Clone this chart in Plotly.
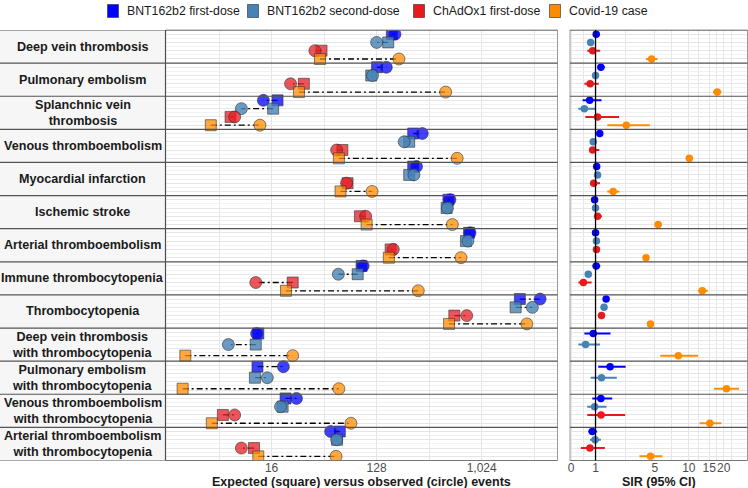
import numpy as np
import plotly.graph_objects as go

W, H = 748, 488

row_labels = [
    "Deep vein thrombosis", "Pulmonary embolism", "Splanchnic vein<br>thrombosis",
    "Venous thromboembolism", "Myocardial infarction", "Ischemic stroke",
    "Arterial thromboembolism", "Immune thrombocytopenia", "Thrombocytopenia",
    "Deep vein thrombosis<br>with thrombocytopenia", "Pulmonary embolism<br>with thrombocytopenia",
    "Venous thromboembolism<br>with thrombocytopenia", "Arterial thromboembolism<br>with thrombocytopenia",
]
group_names = ["BNT162b2 first-dose", "BNT162b2 second-dose", "ChAdOx1 first-dose", "Covid-19 case"]

bnt1_expected = [173, 129, 18, 264, 264, 530, 798, 95, 2181, 12.3, 12.1, 21.1, 61.8]
bnt1_observed = [184, 155, 13.6, 316, 282, 546, 813, 98, 3257, 11.9, 20.2, 26.2, 51.5]
bnt1_sir = [1.03, 1.24, 0.75, 1.19, 1.05, 0.96, 1.0, 1.03, 1.49, 0.90, 1.69, 1.24, 0.86]
bnt1_lo = [0.96, 1.12, 0.46, 1.12, 0.98, 0.90, 0.95, 0.875, 1.42, 0.53, 1.12, 0.86, 0.69]
bnt1_hi = [1.10, 1.43, 1.27, 1.27, 1.12, 1.02, 1.05, 1.21, 1.56, 1.71, 2.58, 1.80, 1.07]

bnt2_expected = [161, 115, 16.5, 244, 244, 512, 750, 88, 2006, 11.7, 11.5, 19.9, 58.5]
bnt2_observed = [128, 118, 8.8, 221, 268, 520, 780, 60, 2795, 6.8, 14.7, 19.1, 58]
bnt2_sir = [0.79, 1.0, 0.53, 0.90, 1.09, 1.0, 1.04, 0.69, 1.39, 0.58, 1.27, 0.96, 0.98]
bnt2_lo = [0.73, 0.88, 0.29, 0.84, 1.01, 0.94, 0.99, 0.58, 1.32, 0.29, 0.79, 0.65, 0.76]
bnt2_hi = [0.86, 1.13, 1.00, 0.97, 1.17, 1.06, 1.09, 0.83, 1.46, 1.20, 2.05, 1.51, 1.24]

chad_expected = [43, 30.3, 7.1, 65, 72, 92, 169, 24.3, 596, None, None, 6.1, 11.3]
chad_observed = [37.7, 23.3, 7.7, 58, 70.6, 103, 178, 11.7, 762, None, None, 7.7, 8.8]
chad_sir = [0.875, 0.77, 1.09, 0.875, 0.92, 1.09, 1.04, 0.49, 1.27, None, None, 1.25, 0.76]
chad_lo = [0.65, 0.53, 0.57, 0.72, 0.76, 0.95, 0.96, 0.29, 1.20, None, None, 0.65, 0.39]
chad_hi = [1.21, 1.14, 2.18, 1.17, 1.20, 1.29, 1.13, 0.83, 1.34, None, None, 2.55, 1.43]

covid_expected = [41.7, 27.5, 4.8, 60.6, 62.6, 105, 163, 21.3, 537, 2.9, 2.75, 4.9, 12.3]
covid_observed = [199, 502, 12.7, 630, 117, 573, 680, 292, 2505, 24.3, 60.6, 77, 57.3]
covid_sir = [4.66, 17.6, 2.62, 10.1, 1.85, 5.35, 4.13, 13.1, 4.55, 8.1, 21.1, 15.2, 4.55]
covid_lo = [4.13, 16.2, 1.55, 9.5, 1.55, 5.1, 3.9, 12.0, 4.35, 5.6, 16.5, 12.4, 3.57]
covid_hi = [5.28, 19.1, 4.49, 10.9, 2.2, 5.8, 4.4, 14.6, 4.75, 12.0, 27.0, 19.1, 5.85]

sir_ticks = [0, 1, 5, 10, 15, 20]
events_ticks = [16, 128, 1024]
events_ticktext = ["16", "128", "1,024"]

groups = [
    (bnt1_expected, bnt1_observed, bnt1_sir, bnt1_lo, bnt1_hi),
    (bnt2_expected, bnt2_observed, bnt2_sir, bnt2_lo, bnt2_hi),
    (chad_expected, chad_observed, chad_sir, chad_lo, chad_hi),
    (covid_expected, covid_observed, covid_sir, covid_lo, covid_hi),
]
fill_cols = ["rgba(0,0,255,0.75)", "rgba(70,130,180,0.8)", "rgba(230,30,36,0.75)", "rgba(255,140,0,0.75)"]
solid_cols = ["#0000FF", "#4682B4", "#E41A1C", "#FF8C00"]
edge = "rgba(50,50,50,0.75)"

nrows = len(row_labels)
ypos = [[None] * nrows for _ in groups]
for r in range(nrows):
    present = [g for g in range(len(groups)) if groups[g][0][r] is not None]
    for j, g in enumerate(present):
        ypos[g][r] = r + (j + 0.5) / len(present)

def tr(v):
    return float(np.arcsinh(v / 2.0))

fig = go.Figure()

for g, (exp, obs, *_rest) in enumerate(groups):
    xs, ys = [], []
    for r in range(nrows):
        if exp[r] is None:
            continue
        xs += [exp[r], obs[r], None]
        ys += [ypos[g][r], ypos[g][r], None]
    fig.add_trace(go.Scatter(x=xs, y=ys, mode="lines", showlegend=False, hoverinfo="skip",
                             line=dict(color="black", width=1.3, dash="6px,3px,2px,3px"),
                             xaxis="x", yaxis="y"))

for g, (exp, obs, *_rest) in enumerate(groups):
    idx = [r for r in range(nrows) if exp[r] is not None]
    fig.add_trace(go.Scatter(x=[exp[r] for r in idx], y=[ypos[g][r] for r in idx], mode="markers",
                             showlegend=False, name=group_names[g] + " expected",
                             marker=dict(symbol="square", size=11, color=fill_cols[g], line=dict(color=edge, width=0.8)),
                             xaxis="x", yaxis="y"))
    fig.add_trace(go.Scatter(x=[obs[r] for r in idx], y=[ypos[g][r] for r in idx], mode="markers",
                             showlegend=False, name=group_names[g] + " observed",
                             marker=dict(symbol="circle", size=12, color=fill_cols[g], line=dict(color=edge, width=0.8)),
                             xaxis="x", yaxis="y"))

for g, (exp, obs, sir, lo, hi) in enumerate(groups):
    idx = [r for r in range(nrows) if sir[r] is not None]
    xs = [tr(sir[r]) for r in idx]
    fig.add_trace(go.Scatter(
        x=xs, y=[ypos[g][r] for r in idx], mode="markers", showlegend=False, name=group_names[g] + " SIR",
        marker=dict(size=7.5, color=solid_cols[g]),
        error_x=dict(type="data", symmetric=False,
                     array=[tr(hi[r]) - tr(sir[r]) for r in idx],
                     arrayminus=[tr(sir[r]) - tr(lo[r]) for r in idx],
                     color=solid_cols[g], thickness=2, width=0),
        xaxis="x2", yaxis="y2"))

L_main, R_main = 165.5 / W, 557.5 / W
L_sir, R_sir = 570 / W, 747.5 / W
Y_top, Y_bot = 1 - 30 / H, 1 - 460.5 / H

log2lo, log2hi = 0.97, 12.166
l2 = np.log10(2)
minor_events = [2 ** 2.5, 2 ** 5.5, 2 ** 8.5, 2 ** 11.5]
sir_t = [tr(v) for v in sir_ticks]
sir_minor = [(a + b) / 2 for a, b in zip(sir_t[:-1], sir_t[1:])] + [sir_t[-1] + (sir_t[-1] - sir_t[-2]) / 2]

tickfont = dict(family="Liberation Sans, Arial", size=12, color="#4D4D4D")
grid_major = "#E6E6E6"
grid_minor = "#F2F2F2"

yax = dict(range=[nrows, 0], domain=[Y_bot, Y_top], showticklabels=False, ticks="",
           tick0=0.125, dtick=0.25, showgrid=True, gridcolor=grid_major, gridwidth=0.8, zeroline=False,
           automargin=False,
           minor=dict(tick0=0, dtick=0.25, showgrid=True, gridcolor=grid_minor, gridwidth=0.5))

fig.update_layout(
    width=W, height=H, margin=dict(l=0, r=0, t=0, b=0, pad=0, autoexpand=False),
    paper_bgcolor="white", plot_bgcolor="white",
    font=dict(family="Liberation Sans, Arial", color="#1A1A1A"),
    xaxis=dict(type="log", domain=[L_main, R_main], range=[log2lo * l2, log2hi * l2], anchor="y",
               tickvals=events_ticks, ticktext=events_ticktext, tickfont=tickfont, ticks="", tickangle=0,
               ticklabelstandoff=-2,
               showgrid=True, gridcolor=grid_major, gridwidth=0.8, zeroline=False, showline=False,
               automargin=False,
               minor=dict(tickvals=minor_events, showgrid=True, gridcolor=grid_major, gridwidth=0.6)),
    yaxis=yax,
    xaxis2=dict(domain=[L_sir, R_sir], range=[-0.02, 3.465], anchor="y2",
                tickvals=sir_t, ticktext=[str(v) for v in sir_ticks], tickfont=tickfont, ticks="", tickangle=0,
                ticklabelstandoff=-2,
                showgrid=True, gridcolor=grid_major, gridwidth=0.8, zeroline=False, showline=False,
                automargin=False,
                minor=dict(tickvals=sir_minor, showgrid=True, gridcolor=grid_major, gridwidth=0.6)),
    yaxis2=dict(yax, anchor="x2", matches="y"),
    showlegend=False,
)

shapes = []
shapes.append(dict(type="rect", xref="paper", yref="y", x0=0, x1=L_main, y0=0, y1=nrows,
                   fillcolor="#F6F6F6", line=dict(width=0), layer="below"))
shapes.append(dict(type="rect", xref="x domain", yref="y domain", x0=0, x1=1, y0=0, y1=1,
                   line=dict(color="#9A9A9A", width=1), fillcolor="rgba(0,0,0,0)"))
shapes.append(dict(type="rect", xref="x2 domain", yref="y2 domain", x0=0, x1=1, y0=0, y1=1,
                   line=dict(color="#9A9A9A", width=1), fillcolor="rgba(0,0,0,0)"))
shapes.append(dict(type="line", xref="paper", yref="y", x0=L_main, x1=L_main, y0=0, y1=nrows,
                   line=dict(color="#4D4D4D", width=1.2)))
for k in range(nrows + 1):
    shapes.append(dict(type="line", xref="paper", yref="y", x0=0, x1=R_main, y0=k, y1=k,
                       line=dict(color="#555555", width=1.2)))
    shapes.append(dict(type="line", xref="x2 domain", yref="y2", x0=0, x1=1, y0=k, y1=k,
                       line=dict(color="#555555", width=1.2)))
shapes.append(dict(type="line", xref="x2", yref="y2 domain", x0=tr(1), x1=tr(1), y0=0, y1=1,
                   line=dict(color="black", width=1.3)))

annotations = []
for r, lab in enumerate(row_labels):
    annotations.append(dict(xref="paper", yref="y", x=82.5 / W, y=r + 0.5, xanchor="center", yanchor="middle",
                            text="<b>%s</b>" % lab,
                            showarrow=False, align="center", font=dict(size=12.6, color="#1A1A1A")))
annotations.append(dict(xref="x domain", yref="paper", x=0.5, y=1 - 481.5 / H, xanchor="center", yanchor="middle",
                        text="<b>Expected (square) versus observed (circle) events</b>", showarrow=False,
                        font=dict(size=12.5, color="#1A1A1A")))
annotations.append(dict(xref="x2 domain", yref="paper", x=0.5, y=1 - 481.5 / H, xanchor="center", yanchor="middle",
                        text="<b>SIR (95% CI)</b>", showarrow=False, font=dict(size=12.5, color="#1A1A1A")))

legend_key_x = [113, 253, 419, 555]
legend_y = 11
for g in range(len(groups)):
    cx = legend_key_x[g]
    shapes.append(dict(type="rect", xref="paper", yref="paper",
                       x0=(cx - 5.5) / W, x1=(cx + 5.5) / W, y0=1 - (legend_y + 6.5) / H, y1=1 - (legend_y - 6.5) / H,
                       fillcolor=solid_cols[g], line=dict(color="rgba(50,50,50,0.8)", width=0.8)))
    annotations.append(dict(xref="paper", yref="paper", x=(cx + 12) / W, y=1 - legend_y / H,
                            xanchor="left", yanchor="middle", text=group_names[g], showarrow=False,
                            font=dict(size=12.3, color="#1A1A1A")))

fig.update_layout(shapes=shapes, annotations=annotations)
fig.write_html("out.html", config={"displayModeBar": False},
               post_script="document.body.style.margin='0px';document.body.style.padding='0px';document.body.style.overflow='hidden';")
